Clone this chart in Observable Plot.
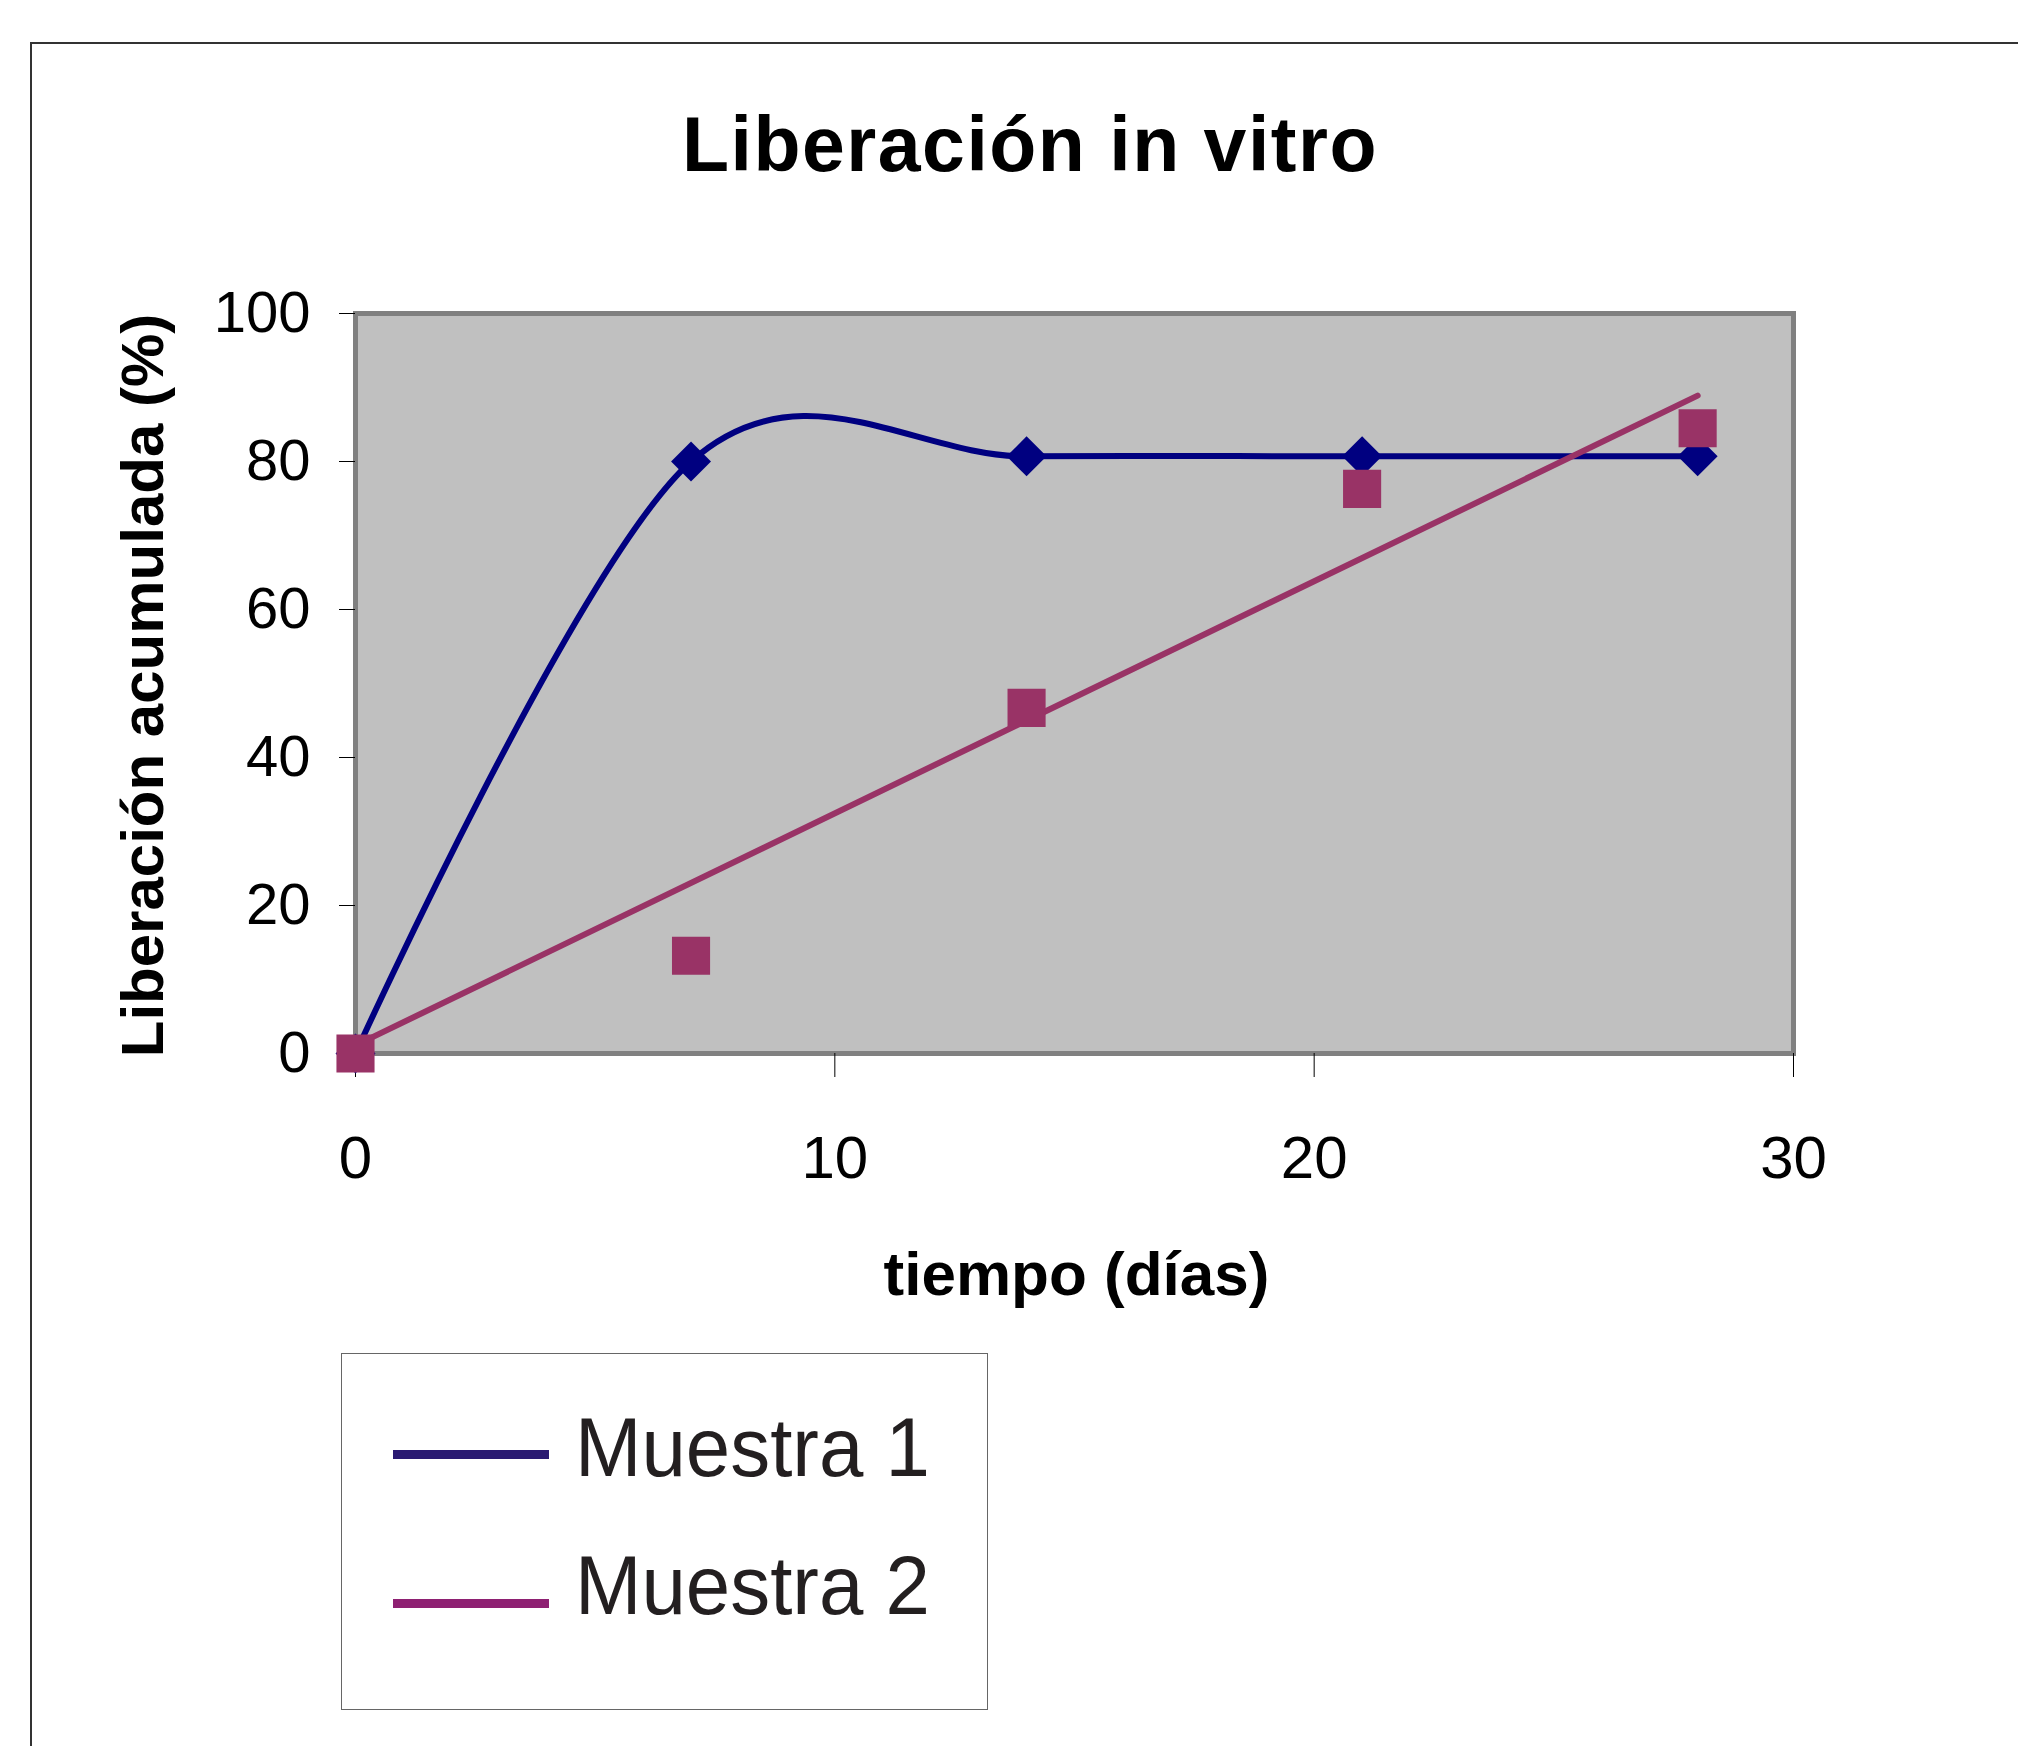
<!DOCTYPE html>
<html>
<head>
<meta charset="utf-8">
<script src="https://cdn.jsdelivr.net/npm/d3@7"></script>
<script src="https://cdn.jsdelivr.net/npm/@observablehq/plot@0.6"></script>
<style>
  html, body { margin: 0; padding: 0; background: #fff; }
  #page { position: relative; width: 2018px; height: 1746px; overflow: hidden; background: #fff;
          font-family: "Liberation Sans", Arial, sans-serif; }
  #chartBorder { position: absolute; left: 30px; top: 42px; width: 2100px; height: 1800px;
                 border-left: 2px solid #333; border-top: 2px solid #333; }
  #title { position: absolute; left: 1030px; top: 106px; transform: translateX(-50%);
           font-size: 77px; line-height: 77px; font-weight: bold; letter-spacing: 1.5px; white-space: nowrap; color: #000; }
  #plot { position: absolute; left: 0; top: 0; }
  #legend { position: absolute; left: 341px; top: 1353px; width: 647px; height: 357px;
            border: 1.5px solid #666; background: #fff; box-sizing: border-box; }
  .lg-line { position: absolute; height: 9px; }
  .lg-text { position: absolute; font-size: 84px; line-height: 84px; color: #231f20; white-space: nowrap;
             transform-origin: left top; transform: scaleX(0.95); }
</style>
</head>
<body>
<div id="page">
  <div id="chartBorder"></div>
  <div id="title"></div>
  <div id="plot"></div>
  <div id="legend"></div>
</div>
<script>
// ---- data ----
const titleText = "Liberación in vitro";
const xLabel = "tiempo (días)";
const yLabel = "Liberación acumulada (%)";
const seriesNames = ["Muestra 1", "Muestra 2"];
const seriesColors = ["#000080", "#993366"];
const legendColors = ["#2a1a72", "#8e2072"];

const days = [0, 7, 14, 21, 28];
const muestra1 = [0, 80, 80.7, 80.7, 80.7];
const muestra2 = [0, 13.2, 46.7, 76.3, 84.5];

// trend line of Muestra 2 (end points)
const trend2Days = [0, 28];
const trend2Vals = [1.1, 88.9];

const xTicks = [0, 10, 20, 30];
const yTicks = [0, 20, 40, 60, 80, 100];

// ---- build tables ----
const m1 = days.map((d, i) => ({x: d, y: muestra1[i]}));
const m2 = days.map((d, i) => ({x: d, y: muestra2[i]}));
const t2 = trend2Days.map((d, i) => ({x: d, y: trend2Vals[i]}));

document.getElementById("title").textContent = titleText;

const W = 2018, H = 1340;
const chart = Plot.plot({
  width: W,
  height: H,
  marginLeft: 355,
  marginRight: 225,
  marginTop: 313,
  marginBottom: 287,
  style: {fontFamily: "'Liberation Sans', Arial, sans-serif", background: "transparent", color: "#000"},
  x: {domain: [0, 30]},
  y: {domain: [0, 100]},
  marks: [
    Plot.frame({fill: "#c0c0c0", stroke: "#808080", strokeWidth: 5}),
    Plot.axisY({ticks: yTicks, tickSize: 16, tickPadding: 29, fontSize: 58, label: null, stroke: "#000"}),
    Plot.axisX({ticks: xTicks, tickSize: 24, tickPadding: 58, fontSize: 60, label: null, stroke: "#000"}),
    Plot.text([yLabel], {frameAnchor: "left", textAnchor: "middle", lineAnchor: "middle", rotate: -90, dx: -212, dy: 2,
                         fontSize: 60, fontWeight: "bold", fill: "#000"}),
    Plot.text([xLabel], {frameAnchor: "bottom", textAnchor: "middle", lineAnchor: "middle", dy: 222, dx: 2,
                         fontSize: 62, fontWeight: "bold", fill: "#000"}),
    Plot.line(m1, {x: "x", y: "y", stroke: seriesColors[0], strokeWidth: 6, curve: "cardinal", tension: 0}),
    Plot.dot(m1, {x: "x", y: "y", symbol: "diamond2", r: 18, fill: seriesColors[0], stroke: "none"}),
    Plot.line(t2, {x: "x", y: "y", stroke: seriesColors[1], strokeWidth: 6}),
    Plot.dot(m2, {x: "x", y: "y", symbol: "square", r: 21.5, fill: seriesColors[1], stroke: "none"})
  ]
});
document.getElementById("plot").appendChild(chart);

// ---- legend ----
const legend = document.getElementById("legend");
const legendRows = [{lineTop: 1453, textTop: 1404}, {lineTop: 1602, textTop: 1542}];
seriesNames.forEach((name, i) => {
  const line = document.createElement("div");
  line.className = "lg-line";
  line.style.left = (392 - 341) + "px";
  line.style.width = "156px";
  line.style.top = (legendRows[i].lineTop - 1353 - 4.5) + "px";
  line.style.background = legendColors[i];
  legend.appendChild(line);
  const t = document.createElement("div");
  t.className = "lg-text";
  t.style.left = (574 - 341) + "px";
  t.style.top = (legendRows[i].textTop - 1353) + "px";
  t.textContent = name;
  legend.appendChild(t);
});
</script>
</body>
</html>
